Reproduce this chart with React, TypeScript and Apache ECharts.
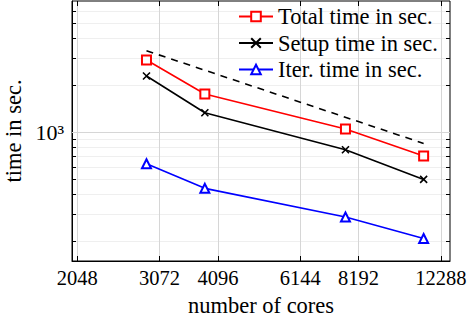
import React, { useEffect, useRef } from "react";
import * as echarts from "echarts";

// number of cores used in each run
const cores = [2880, 3840, 7680, 11290];
// wall-clock times in seconds
const totalTime = [2908, 1760, 1050, 705];
const setupTime = [2296, 1336, 774, 500];
const iterTime = [629, 438, 287, 209];
// ideal strong-scaling reference (dashed)
const idealCores = [2880, 11290];
const idealTime = [3334, 850];

const xTicks = [2048, 3072, 4096, 6144, 8192, 12288];
const yMinorTicks = [200, 300, 400, 500, 600, 700, 800, 900, 1000, 2000, 3000, 4000, 5000, 6000];
const yMajorTicks = [1000];

const FONT = "Liberation Serif";

function pairs(xs: number[], ys: number[]) {
  return xs.map((x, i) => [x, ys[i]]);
}

export default function App() {
  const ref = useRef<HTMLDivElement>(null);
  useEffect(() => {
    if (!ref.current) return;
    const chart = echarts.init(ref.current, null, { renderer: "svg" });
    const crossPath = "path://M0,0L10,10M10,0L0,10";
    chart.setOption({
      animation: false,
      backgroundColor: "#fff",
      textStyle: { fontFamily: FONT, color: "#000" },
      grid: {
        left: 72,
        right: 23,
        top: 1,
        bottom: 57,
        outerBoundsMode: "none",
        containLabel: false,
        show: true,
        borderColor: "#000",
        borderWidth: 1,
        backgroundColor: "transparent",
      },
      legend: {
        data: ["Total time in sec.", "Setup time in sec.", "Iter. time in sec."],
        orient: "vertical",
        left: 238,
        top: 5,
        padding: 0,
        itemGap: 3.5,
        itemWidth: 34,
        itemHeight: 12,
        textStyle: { fontFamily: FONT, fontSize: 22.5, lineHeight: 22.5, color: "#000" },
      },
      xAxis: [
        {
          type: "log",
          logBase: 2,
          min: 1995,
          max: 12857,
          name: "number of cores",
          nameLocation: "middle",
          nameGap: 33,
          nameTextStyle: { fontFamily: FONT, fontSize: 22.5, color: "#000" },
          axisLine: { show: true, lineStyle: { color: "#000", width: 1 } },
          axisTick: { show: true, inside: true, length: 5, customValues: xTicks, lineStyle: { color: "#000" } },
          axisLabel: {
            customValues: xTicks,
            formatter: (v: number) => String(Math.round(v)),
            fontFamily: FONT,
            fontSize: 20.5,
            color: "#000",
            margin: 6,
          },
          splitLine: { show: true, lineStyle: { color: "#d6d6d6", width: 1 } },
        },
        {
          type: "log",
          logBase: 2,
          min: 1995,
          max: 12857,
          position: "top",
          axisLine: { show: false },
          axisTick: { show: true, inside: true, length: 5, customValues: xTicks, lineStyle: { color: "#000" } },
          axisLabel: { show: false },
          splitLine: { show: false },
        },
      ],
      yAxis: [
        {
          type: "log",
          logBase: 10,
          min: 150,
          max: 6945,
          name: "time in sec.",
          nameLocation: "middle",
          nameGap: 46,
          nameRotate: 90,
          nameTextStyle: { fontFamily: FONT, fontSize: 22.5, color: "#000" },
          axisLine: { show: true, lineStyle: { color: "#000", width: 1 } },
          axisTick: { show: true, inside: true, length: 4, customValues: yMinorTicks, lineStyle: { color: "#000" } },
          axisLabel: {
            customValues: yMajorTicks,
            formatter: () => "10³",
            fontFamily: FONT,
            fontSize: 22,
            color: "#000",
            margin: 8,
          },
          splitLine: { show: true, lineStyle: { color: "#efefef", width: 1 } },
        },
        {
          type: "log",
          logBase: 10,
          min: 150,
          max: 6945,
          position: "right",
          axisLine: { show: false },
          axisTick: { show: true, inside: true, length: 4, customValues: yMinorTicks, lineStyle: { color: "#000" } },
          axisLabel: { show: false },
          splitLine: { show: false },
        },
      ],
      series: [
        {
          name: "ideal",
          type: "line",
          data: pairs(idealCores, idealTime),
          symbol: "none",
          lineStyle: { color: "#000", width: 1.6, type: [7, 6] },
          silent: true,
          markLine: {
            silent: true,
            symbol: "none",
            label: { show: false },
            lineStyle: { color: "#d6d6d6", width: 1, type: "solid" },
            data: yMajorTicks.map((v) => ({ yAxis: v })),
            z: 1,
          },
          z: 3,
        },
        {
          name: "Total time in sec.",
          type: "line",
          data: pairs(cores, totalTime),
          symbol: "emptyRect",
          symbolSize: 9,
          color: "#ff0000",
          lineStyle: { color: "#ff0000", width: 1.6 },
          itemStyle: { color: "#ff0000", borderColor: "#ff0000", borderWidth: 1.6 },
          z: 4,
        },
        {
          name: "Setup time in sec.",
          type: "line",
          data: pairs(cores, setupTime),
          symbol: crossPath,
          symbolSize: 7,
          color: "#000",
          lineStyle: { color: "#000", width: 1.6 },
          itemStyle: { color: "#000", borderColor: "#000", borderWidth: 1.6 },
          z: 4,
        },
        {
          name: "Iter. time in sec.",
          type: "line",
          data: pairs(cores, iterTime),
          symbol: "emptyTriangle",
          symbolSize: 9,
          color: "#0000ff",
          lineStyle: { color: "#0000ff", width: 1.6 },
          itemStyle: { color: "#0000ff", borderColor: "#0000ff", borderWidth: 1.6 },
          z: 4,
        },
      ],
    });
    return () => chart.dispose();
  }, []);
  return (
    <div
      ref={ref}
      style={{ position: "fixed", left: 0, top: 0, width: 473, height: 318, background: "#fff" }}
    />
  );
}
